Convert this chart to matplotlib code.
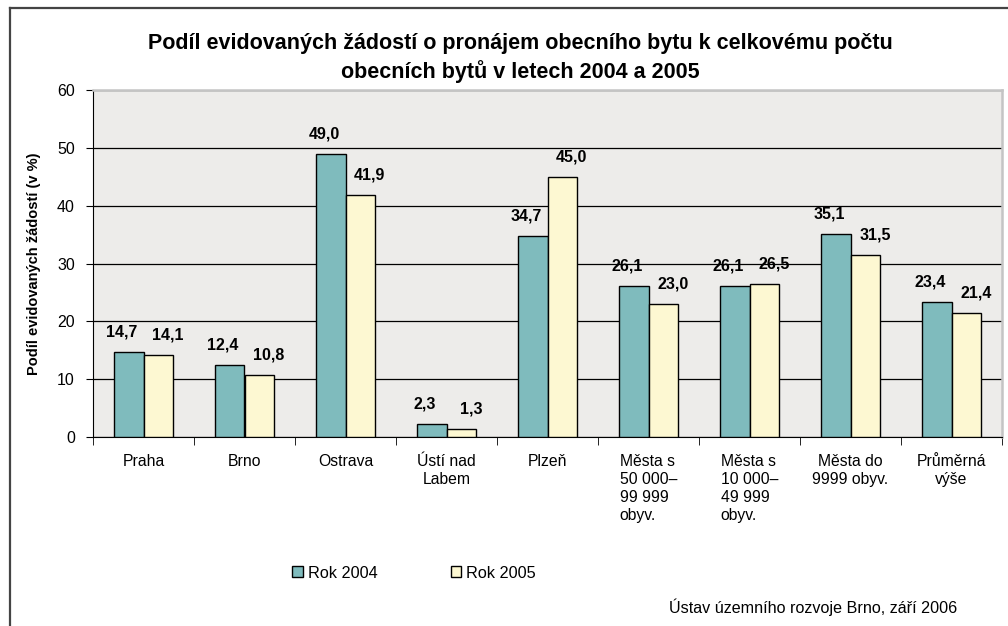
import matplotlib
matplotlib.use("Agg")
import matplotlib.pyplot as plt
from matplotlib.lines import Line2D
from matplotlib.patches import Patch
import numpy as np

plt.rcParams['font.family'] = ['Liberation Sans', 'DejaVu Sans']

categories = ['Praha', 'Brno', 'Ostrava', 'Ústí nad\nLabem', 'Plzeň',
              'Města s\n50 000–\n99 999\nobyv.', 'Města s\n10 000–\n49 999\nobyv.',
              'Města do\n9999 obyv.', 'Průměrná\nvýše']
rok_2004 = [14.7, 12.4, 49.0, 2.3, 34.7, 26.1, 26.1, 35.1, 23.4]
rok_2005 = [14.1, 10.8, 41.9, 1.3, 45.0, 23.0, 26.5, 31.5, 21.4]
series_names = ['Rok 2004', 'Rok 2005']

c2004 = '#7fbbbd'
c2005 = '#fdf8d2'

fig = plt.figure(figsize=(10.08, 6.26), dpi=100)
ax = fig.add_axes([93/1008, 1 - 437/626, (1002 - 93)/1008, (437 - 90)/626])
ax.set_facecolor('#edecea')

x = np.arange(len(categories))
w = 0.29
b1 = ax.bar(x - w/2, rok_2004, w, color=c2004, edgecolor='black', linewidth=1, zorder=3)
b2 = ax.bar(x + w/2, rok_2005, w, color=c2005, edgecolor='black', linewidth=1, zorder=3)

fmt = lambda v: f'{v:.1f}'.replace('.', ',')
# labels sit a bit left of 2004 bars and right of 2005 bars, as in Excel
for bars, vals, dx in ((b1, rok_2004, -5), (b2, rok_2005, 7)):
    for r, v in zip(bars, vals):
        ax.annotate(fmt(v), (r.get_x() + r.get_width()/2, v), xytext=(dx, 9),
                    textcoords='offset points', ha='center', va='bottom',
                    fontsize=11.5, fontweight='bold', zorder=4)

ax.set_xlim(-0.5, len(categories) - 0.5)
ax.set_ylim(0, 60)
ax.set_yticks(range(0, 61, 10))
ax.yaxis.grid(True, color='black', linewidth=0.9, zorder=1)
ax.set_axisbelow(True)
ax.tick_params(axis='y', direction='out', length=5, pad=8, labelsize=11.5)

ax.set_xticks(x)
ax.set_xticklabels(categories, fontsize=11.3, linespacing=1.25, multialignment='center')
ax.tick_params(axis='x', length=0, pad=12)
ax.set_xticks(np.arange(-0.5, len(categories)), minor=True)
ax.tick_params(axis='x', which='minor', direction='out', length=6)
for lbl in ax.get_xticklabels()[5:7]:
    lbl.set_multialignment('left')

for s in ('top', 'right'):
    ax.spines[s].set_color('#c4c4c4')
    ax.spines[s].set_linewidth(1.8)
ax.spines['left'].set_color('black')
ax.spines['bottom'].set_color('black')

ax.set_ylabel('Podíl evidovaných žádostí (v %)', fontsize=10.5, fontweight='bold')
ax.yaxis.set_label_coords(-(93 - 41)/909, 0.5)

fig.text(520/1008, 1 - 58/626,
         'Podíl evidovaných žádostí o pronájem obecního bytu k celkovému počtu\nobecních bytů v letech 2004 a 2005',
         ha='center', va='center', fontsize=15.5, fontweight='bold', linespacing=1.3)

handles = [Patch(facecolor=c2004, edgecolor='black'), Patch(facecolor=c2005, edgecolor='black')]
fig.legend(handles, series_names, loc='center', bbox_to_anchor=(414/1008, 1 - 573/626),
           ncol=2, frameon=False, fontsize=11.7, handlelength=0.65, handleheight=0.65,
           handletextpad=0.3, columnspacing=4.5)

fig.text(957/1008, 1 - 607/626, 'Ústav územního rozvoje Brno, září 2006',
         ha='right', va='center', fontsize=11.6)

# outer frame (only left and top edges visible)
fig.add_artist(Line2D([10/1008, 10/1008], [0, 1 - 8/626], color='#444444', linewidth=1.6,
                      transform=fig.transFigure))
fig.add_artist(Line2D([10/1008, 1], [1 - 8/626, 1 - 8/626], color='#444444', linewidth=1.6,
                      transform=fig.transFigure))

fig.savefig('out.png', dpi=100)
